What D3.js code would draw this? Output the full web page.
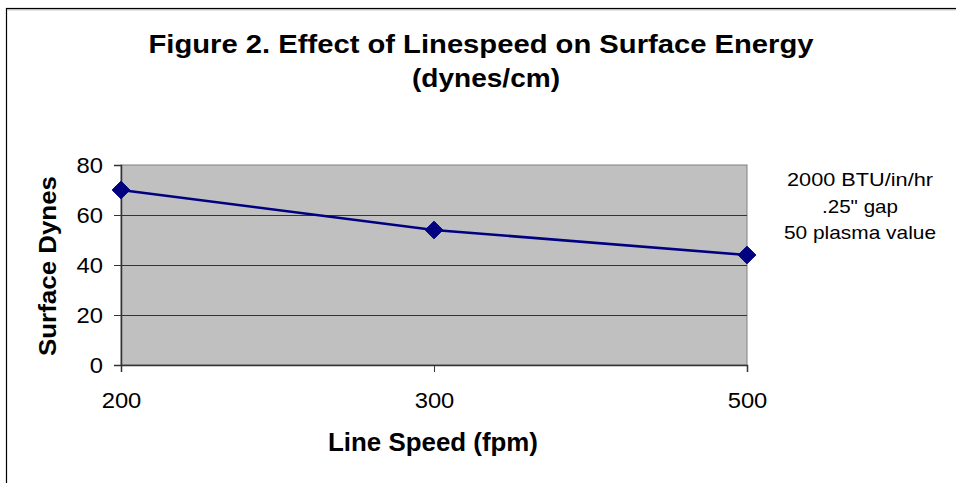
<!DOCTYPE html>
<html><head><meta charset="utf-8">
<script src="https://cdn.jsdelivr.net/npm/d3@7"></script>
<style>html,body{margin:0;padding:0;background:#fff;}svg{display:block;}</style>
</head><body>
<svg id="c" width="956" height="483"></svg>
<script>
const categories = ["200", "300", "500"];
const dynes = [70, 54, 44];
const yTicks = [0, 20, 40, 60, 80];
const titleLines = ["Figure 2. Effect of Linespeed on Surface Energy", "(dynes/cm)"];
const xTitle = "Line Speed (fpm)";
const yTitle = "Surface Dynes";
const noteLines = ["2000 BTU/in/hr", ".25\" gap", "50 plasma value"];

const FONT = "'Liberation Sans', Arial, sans-serif";
const svg = d3.select("#c");
function stretch(sel, k){ sel.each(function(){ const w=this.getComputedTextLength(); d3.select(this).attr("textLength", w*k).attr("lengthAdjust","spacingAndGlyphs"); }); }

// outer border
svg.append("rect").attr("x",6.5).attr("y",8.5).attr("width",1200).attr("height",1200).attr("fill","#fff").attr("stroke","#000").attr("stroke-width",1.2);
svg.append("line").attr("x1",7).attr("x2",956).attr("y1",9.8).attr("y2",9.8).attr("stroke","#aaa").attr("stroke-width",1);

const L=121, R=747, T=165, B=365;
const x = d3.scalePoint().domain(categories).range([L,R]);
const y = d3.scaleLinear().domain([0,80]).range([B,T]);

svg.append("rect").attr("x",L).attr("y",T).attr("width",R-L).attr("height",B-T).attr("fill","#c0c0c0").attr("stroke","#808080").attr("stroke-width",1);

// gridlines
svg.append("g").selectAll("line").data(yTicks.filter(d=>d>0 && d<80)).join("line")
  .attr("x1",L).attr("x2",R).attr("y1",d=>y(d)+0.5).attr("y2",d=>y(d)+0.5).attr("stroke","#333").attr("stroke-width",1);

// axes
const yAxis = svg.append("g").attr("transform",`translate(${L},0)`).call(d3.axisLeft(y).tickValues(yTicks).tickSize(7).tickPadding(11).tickFormat(d3.format("d")));
yAxis.select(".domain").attr("stroke","#333").attr("stroke-width",1.5);
yAxis.selectAll(".tick line").attr("stroke","#333");
yAxis.selectAll("text").attr("font-family",FONT).attr("font-size",22).attr("fill","#000").attr("dy","0.36em");

const xAxis = svg.append("g").attr("transform",`translate(0,${B})`).call(d3.axisBottom(x).tickSize(7).tickPadding(0));
xAxis.select(".domain").attr("stroke","#333").attr("stroke-width",1.5);
xAxis.selectAll(".tick line").attr("stroke","#333");
xAxis.selectAll("text").attr("font-family",FONT).attr("font-size",22).attr("fill","#000").attr("y",43).attr("dy","0");
stretch(yAxis.selectAll("text"),1.08);
stretch(xAxis.selectAll("text"),1.08);

// line + markers
const pts = categories.map((c,i)=>({c, v:dynes[i]}));
svg.append("path").datum(pts).attr("fill","none").attr("stroke","#000080").attr("stroke-width",2.6)
  .attr("d", d3.line().x(d=>x(d.c)).y(d=>y(d.v)));
svg.append("g").selectAll("path").data(pts).join("path")
  .attr("transform",d=>`translate(${x(d.c)},${y(d.v)})`)
  .attr("d", d3.symbol().type(d3.symbolDiamond2).size(200)).attr("fill","#000080").attr("stroke","#000080").attr("stroke-width",1);

// titles
const tt = svg.append("g").attr("font-family",FONT).attr("font-weight","bold").attr("text-anchor","middle").attr("fill","#000");
tt.append("text").attr("x",481).attr("y",53).attr("font-size",26).text(titleLines[0]).attr("textLength",665).attr("lengthAdjust","spacingAndGlyphs");
tt.append("text").attr("x",486).attr("y",87).attr("font-size",26).text(titleLines[1]).attr("textLength",148).attr("lengthAdjust","spacingAndGlyphs");

svg.append("text").attr("x",433).attr("y",451).attr("font-family",FONT).attr("font-weight","bold").attr("font-size",25).attr("text-anchor","middle").text(xTitle).attr("textLength",210).attr("lengthAdjust","spacingAndGlyphs");

svg.append("text").attr("transform","translate(56,266) rotate(-90)").attr("font-family",FONT).attr("font-weight","bold").attr("font-size",24).attr("text-anchor","middle").text(yTitle).attr("textLength",180).attr("lengthAdjust","spacingAndGlyphs");

// notes
const widths=[146,76,152], bases=[186,213,239];
svg.append("g").selectAll("text").data(noteLines).join("text")
  .attr("x",860).attr("y",(d,i)=>bases[i]).attr("font-family",FONT).attr("font-size",18.5).attr("text-anchor","middle").attr("fill","#000")
  .text(d=>d).attr("textLength",(d,i)=>widths[i]).attr("lengthAdjust","spacingAndGlyphs");
</script>
</body></html>
